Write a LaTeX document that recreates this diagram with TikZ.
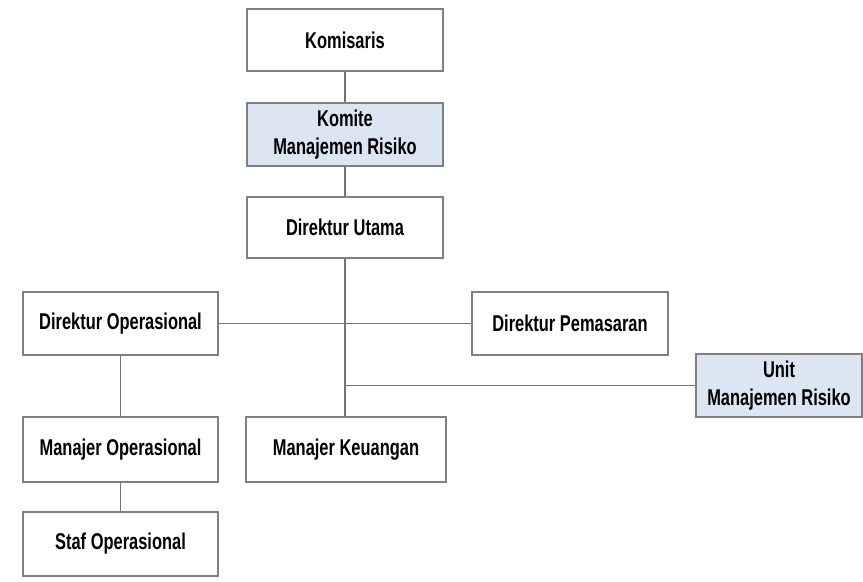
\documentclass[tikz,border=0pt]{standalone}
\usepackage{fontspec}
\setmainfont{Liberation Sans}[FakeStretch=0.72]
\definecolor{riskfill}{RGB}{220,230,242}
\begin{document}
\begin{tikzpicture}[x=0.02cm,y=-0.02cm,
    box/.style={draw=black!50,line width=1.1pt,fill=white,minimum width=196*0.02cm,
        minimum height=62*0.02cm,inner sep=0pt,align=center,
        font=\fontsize{13}{16}\selectfont\bfseries},
    riskbox/.style={box,fill=riskfill},
    link/.style={draw=black!55,line width=0.9pt}]

    \useasboundingbox (0,0) rectangle (863,582);

    % Top chain
    \node[box] (kom) at (345,40) {Komisaris};
    \node[riskbox,minimum height=63*0.02cm] (kmr) at (345,134.5) {Komite\\Manajemen Risiko};
    \node[box,minimum height=61*0.02cm] (dirut) at (345,227.5) {Direktur Utama};

    % Directors
    \node[box,minimum width=195*0.02cm,minimum height=63*0.02cm] (dirops) at (120.5,323.5) {Direktur Operasional};
    \node[box,minimum height=63*0.02cm] (dirpem) at (570,323.5) {Direktur Pemasaran};
    \node[riskbox,minimum width=166*0.02cm,minimum height=63*0.02cm] (umr) at (779,385.5) {Unit\\Manajemen Risiko};

    % Managers and staff
    \node[box,minimum width=195*0.02cm,minimum height=65*0.02cm] (manops) at (120.5,449.5) {Manajer Operasional};
    \node[box,minimum width=200*0.02cm,minimum height=65*0.02cm] (mankeu) at (346,449.5) {Manajer Keuangan};
    \node[box,minimum width=195*0.02cm,minimum height=64*0.02cm] (staf) at (120.5,544) {Staf Operasional};

    \coordinate (branch) at (dirut.south |- umr.west);

    % Connectors
    \draw[link] (kom) -- (kmr);
    \draw[link] (kmr) -- (dirut);
    \draw[link] (dirut.south) -- (dirut.south |- mankeu.north);
    \draw[link] (dirops) -- (dirpem);
    \draw[link] (branch) -- (umr);
    \draw[link] (dirops) -- (manops);
    \draw[link] (manops) -- (staf);

\end{tikzpicture}
\end{document}
